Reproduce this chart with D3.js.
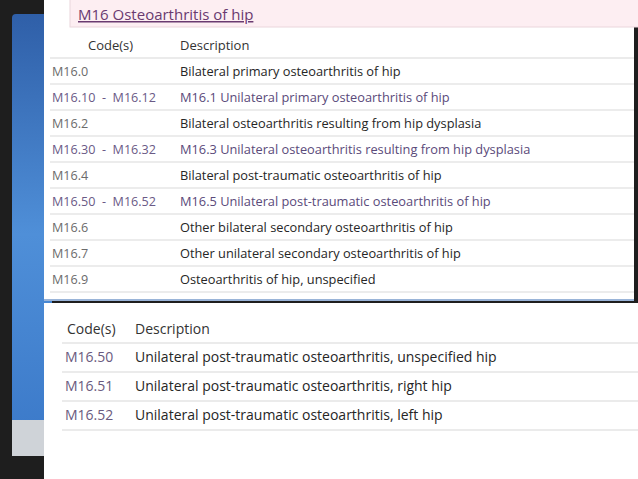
<!DOCTYPE html>
<html><head><meta charset="utf-8">
<script src="https://cdn.jsdelivr.net/npm/d3@7"></script>
<style>body{margin:0;background:#1e1e1e;overflow:hidden}</style>
</head><body>
<svg id="c" width="638" height="479"></svg>
<script>
var title = "M16 Osteoarthritis of hip";
var topCodes = ["M16.0","M16.10  -  M16.12","M16.2","M16.30  -  M16.32","M16.4","M16.50  -  M16.52","M16.6","M16.7","M16.9"];
var topDescs = ["Bilateral primary osteoarthritis of hip","M16.1 Unilateral primary osteoarthritis of hip","Bilateral osteoarthritis resulting from hip dysplasia","M16.3 Unilateral osteoarthritis resulting from hip dysplasia","Bilateral post-traumatic osteoarthritis of hip","M16.5 Unilateral post-traumatic osteoarthritis of hip","Other bilateral secondary osteoarthritis of hip","Other unilateral secondary osteoarthritis of hip","Osteoarthritis of hip, unspecified"];
var topIsRange = [false,true,false,true,false,true,false,false,false];
var subCodes = ["M16.50","M16.51","M16.52"];
var subDescs = ["Unilateral post-traumatic osteoarthritis, unspecified hip","Unilateral post-traumatic osteoarthritis, right hip","Unilateral post-traumatic osteoarthritis, left hip"];

var svg = d3.select("#c");
var font = "'Open Sans', sans-serif";

// backdrop
var defs = svg.append("defs");
var gr = defs.append("linearGradient").attr("id","blue").attr("x1",0).attr("x2",0).attr("y1",0).attr("y2",1);
gr.append("stop").attr("offset","0").attr("stop-color","#2f5fa8");
gr.append("stop").attr("offset","0.5").attr("stop-color","#4f8fd8");
gr.append("stop").attr("offset","1").attr("stop-color","#3a78c8");
svg.append("rect").attr("x",12).attr("y",14).attr("width",40).attr("height",440).attr("rx",4).attr("fill","url(#blue)");
svg.append("rect").attr("x",12).attr("y",420).attr("width",40).attr("height",36).attr("fill","#cfd3d8");

// top panel
svg.append("rect").attr("x",44).attr("y",0).attr("width",590).attr("height",300).attr("fill","#fff");
svg.append("rect").attr("x",70).attr("y",-2).attr("width",570).attr("height",29).attr("fill","#fdeef2").attr("stroke","#ead6dc");
svg.append("text").attr("x",78).attr("y",20).attr("font-family",font).attr("font-size",15)
  .attr("fill","#6a3a70").attr("text-decoration","underline").text(title);

var yTop = d3.scaleBand().domain(d3.range(topCodes.length)).range([58,292]).paddingInner(0);
svg.append("text").attr("x",88).attr("y",50).attr("font-family",font).attr("font-size",13).attr("fill","#333").text("Code(s)");
svg.append("text").attr("x",180).attr("y",50).attr("font-family",font).attr("font-size",13).attr("fill","#333").text("Description");
svg.append("line").attr("x1",50).attr("x2",634).attr("y1",58).attr("y2",58).attr("stroke","#e4e4e4").attr("stroke-width",1.5);

var tr = svg.selectAll("g.tr").data(d3.range(topCodes.length)).enter().append("g")
  .attr("transform", function(i){ return "translate(0," + yTop(i) + ")"; });
tr.append("line").attr("x1",50).attr("x2",634).attr("y1",yTop.bandwidth()).attr("y2",yTop.bandwidth()).attr("stroke","#e6e6e6").attr("stroke-width",1.5);
tr.append("text").attr("x",52).attr("y",18).attr("font-family",font).attr("font-size",12.6)
  .attr("fill", function(i){ return topIsRange[i] ? "#6a5a86" : "#6b6b6b"; })
  .attr("xml:space","preserve").style("white-space","pre").text(function(i){ return topCodes[i]; });
tr.append("text").attr("x",180).attr("y",18).attr("font-family",font).attr("font-size",12.8)
  .attr("fill", function(i){ return topIsRange[i] ? "#5a4a7a" : "#262626"; })
  .text(function(i){ return topDescs[i]; });
svg.append("line").attr("x1",44).attr("x2",634).attr("y1",300).attr("y2",300).attr("stroke","#9ab4d8").attr("stroke-width",2);

// bottom panel
svg.append("rect").attr("x",44).attr("y",303).attr("width",594).attr("height",176).attr("fill","#fff");
svg.append("text").attr("x",67).attr("y",334).attr("font-family",font).attr("font-size",14).attr("fill","#333").text("Code(s)");
svg.append("text").attr("x",135).attr("y",334).attr("font-family",font).attr("font-size",14).attr("fill","#333").text("Description");
var yBot = d3.scaleBand().domain(d3.range(subCodes.length)).range([343,430]);
svg.append("line").attr("x1",62).attr("x2",638).attr("y1",343).attr("y2",343).attr("stroke","#e4e4e4").attr("stroke-width",1.5);
var br = svg.selectAll("g.br").data(d3.range(subCodes.length)).enter().append("g")
  .attr("transform", function(i){ return "translate(0," + yBot(i) + ")"; });
br.append("line").attr("x1",62).attr("x2",638).attr("y1",yBot.bandwidth()).attr("y2",yBot.bandwidth()).attr("stroke","#e4e4e4").attr("stroke-width",1.5);
br.append("text").attr("x",65).attr("y",19).attr("font-family",font).attr("font-size",14).attr("fill","#6a5a7e").text(function(i){ return subCodes[i]; });
br.append("text").attr("x",135).attr("y",19).attr("font-family",font).attr("font-size",14).attr("fill","#262626").text(function(i){ return subDescs[i]; });
</script>
</body></html>
